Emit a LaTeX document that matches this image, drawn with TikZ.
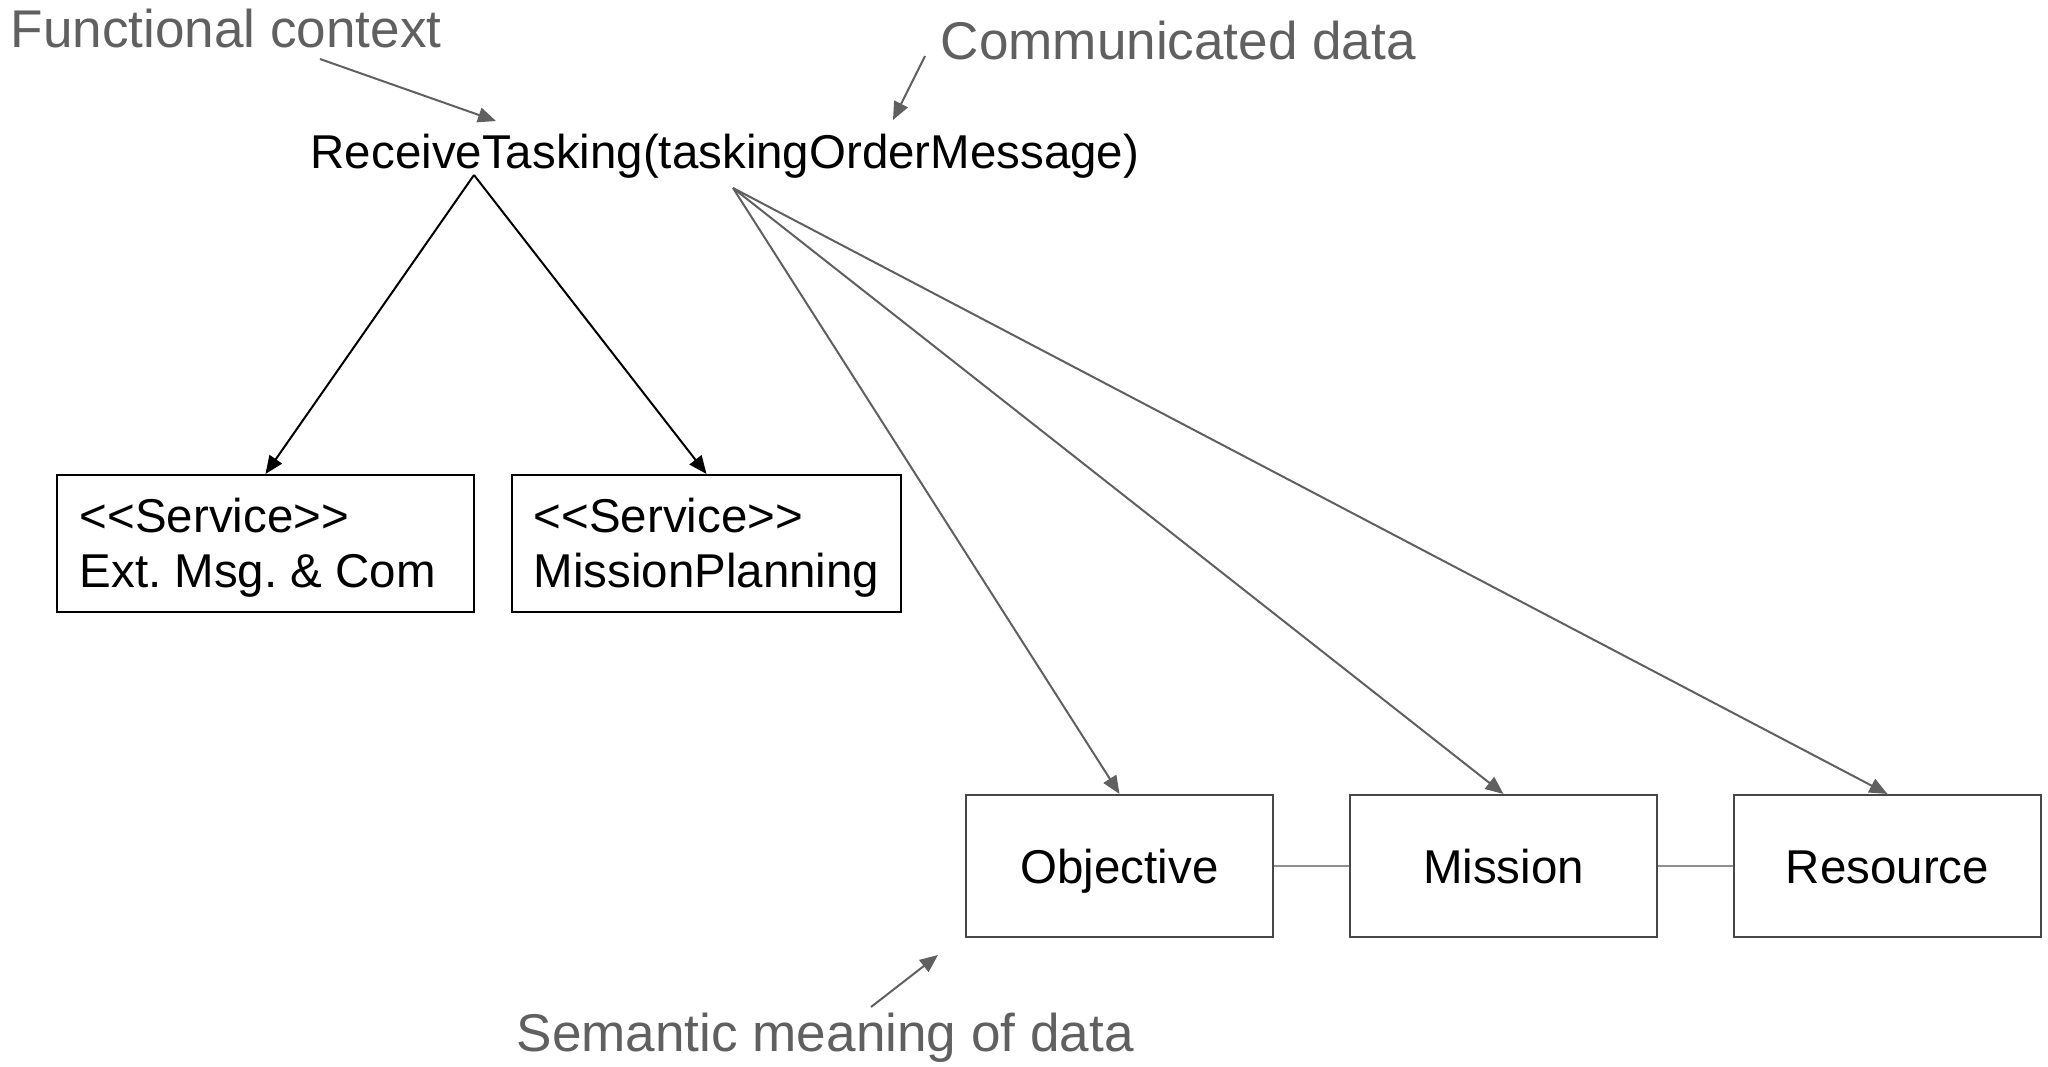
\documentclass[tikz,border=0pt]{standalone}
\usepackage{fontspec}
\setmainfont{Liberation Sans}
\usetikzlibrary{arrows.meta}
\definecolor{annot}{HTML}{606060}
\definecolor{fan}{HTML}{606060}
\definecolor{boxgray}{HTML}{484848}
\definecolor{link}{HTML}{8E8E8E}
\frenchspacing
\begin{document}
\begin{tikzpicture}[x=0.01cm,y=-0.01cm,
  mainfont/.style={font=\fontsize{13.5pt}{15.6pt}\selectfont},
  annotfont/.style={font=\fontsize{15.1pt}{18pt}\selectfont, text=annot},
  svcbox/.style={draw=black, line width=0.02cm, minimum height=1.37cm, inner sep=0pt},
  svctext/.style={anchor=west, inner sep=0pt, align=left, mainfont},
  conbox/.style={draw=boxgray, line width=0.02cm, minimum width=3.07cm, minimum height=1.42cm, text height=0.97em, text depth=0pt, mainfont},
  blackarrow/.style={draw=black, line width=0.02cm, -{Triangle[length=0.18cm,width=0.15cm]}},
  grayarrow/.style={draw=fan, line width=0.02cm, -{Triangle[length=0.18cm,width=0.15cm]}},
  linkline/.style={draw=link, line width=0.015cm}
]
\useasboundingbox (0,0) rectangle (2048,1066);
% main operation
\node[anchor=base west, inner sep=0, mainfont] (rt) at (310,168) {ReceiveTasking(taskingOrderMessage)};
\coordinate (apexL) at (474,175);
\coordinate (apexR) at (733,188);
% service boxes
\node[svcbox, minimum width=4.17cm] (ext) at (265.5,543.5) {};
\node[svctext] (extt) at (79,548) {<{}<Service>{}>\\Ext. Msg. \& Com};
\node[svcbox, minimum width=3.89cm] (mp) at (706.5,543.5) {};
\node[svctext] (mpt) at (533,548) {<{}<Service>{}>\\MissionPlanning};
\draw[blackarrow] (apexL) -- (ext.north);
\draw[blackarrow] (apexL) -- (mp.north);
% concept boxes
\node[conbox] (obj) at (1119.5,866) {Objective};
\node[conbox] (mis) at (1503.5,866) {Mission};
\node[conbox] (res) at (1887.5,866) {Resource};
\draw[linkline] (obj.east) -- (mis.west);
\draw[linkline] (mis.east) -- (res.west);
\draw[grayarrow] (apexR) -- (obj.north);
\draw[grayarrow] (apexR) -- (mis.north);
\draw[grayarrow] (apexR) -- (res.north);
% annotations
\node[annotfont, anchor=base west, inner sep=0] (fc) at (10,47) {Functional context};
\coordinate (fcs) at (320,59);
\coordinate (fce) at (496,121);
\draw[grayarrow] (fcs) -- (fce);
\node[annotfont, anchor=base west, inner sep=0] (cd) at (940,59) {Communicated data};
\coordinate (cds) at (925,56);
\coordinate (cde) at (893,120);
\draw[grayarrow] (cds) -- (cde);
\node[annotfont, anchor=base west, inner sep=0] (sm) at (516,1051) {Semantic meaning of data};
\coordinate (sms) at (871,1007);
\coordinate (sme) at (938,955);
\draw[grayarrow] (sms) -- (sme);
\end{tikzpicture}
\end{document}
